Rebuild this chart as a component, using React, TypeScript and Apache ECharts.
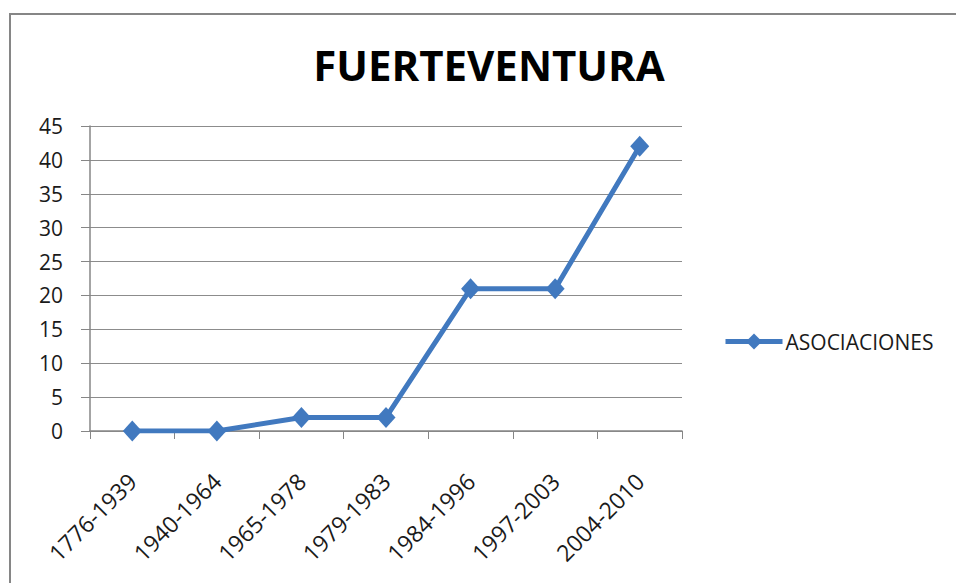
import React, { useEffect, useRef } from "react";
import * as echarts from "echarts";

const categories = ["1776-1939", "1940-1964", "1965-1978", "1979-1983", "1984-1996", "1997-2003", "2004-2010"];
const asociaciones = [0, 0, 2, 2, 21, 21, 42];
const seriesName = "ASOCIACIONES";
const titleText = "FUERTEVENTURA";

export default function App() {
  const ref = useRef<HTMLDivElement>(null);
  useEffect(() => {
    if (!ref.current) return;
    const chart = echarts.init(ref.current, null, { renderer: "svg" });
    const font = "'Open Sans', sans-serif";
    const blue = "#4179BF";
    chart.setOption({
      animation: false,
      backgroundColor: "#ffffff",
      title: {
        text: titleText,
        left: 484,
        textAlign: "center",
        top: 38,
        textStyle: {
          fontFamily: "'Open Sans', sans-serif",
          fontWeight: "bold",
          fontSize: 42,
          color: "#000000",
        },
      },
      graphic: [
        {
          type: "rect",
          shape: { x: 10, y: 14, width: 1000, height: 700 },
          style: { fill: "none", stroke: "#868686", lineWidth: 2 },
          silent: true,
        },
      ],
      legend: {
        data: [seriesName],
        left: 718,
        top: 326,
        itemWidth: 57,
        itemHeight: 20,
        itemGap: 4,
        lineStyle: { width: 5 },
        textStyle: { fontFamily: font, fontSize: 21, color: "#1a1a1a", padding: [0, 0, 0, -2] },
      },
      grid: { left: 90, right: 274, top: 126, bottom: 152, containLabel: false },
      xAxis: {
        type: "category",
        data: categories,
        boundaryGap: true,
        axisLine: { show: true, lineStyle: { color: "#868686", width: 1.5 } },
        axisTick: { show: true, length: 8, alignWithLabel: false, lineStyle: { color: "#868686" } },
        axisLabel: {
          rotate: 45,
          interval: 0,
          margin: 46,
          fontFamily: font,
          fontSize: 23,
          color: "#1a1a1a",
        },
        splitLine: { show: false },
      },
      yAxis: {
        type: "value",
        min: 0,
        max: 45,
        interval: 5,
        axisLine: { show: true, lineStyle: { color: "#868686", width: 1.5 } },
        axisTick: { show: true, length: 9, lineStyle: { color: "#868686" } },
        axisLabel: { margin: 27, fontFamily: font, fontSize: 21, color: "#1a1a1a" },
        splitLine: { show: true, lineStyle: { color: "#8c8c8c", width: 1.2 } },
      },
      series: [
        {
          name: seriesName,
          type: "line",
          data: asociaciones,
          symbol: "diamond",
          symbolSize: [19, 21],
          lineStyle: { color: blue, width: 5 },
          itemStyle: { color: blue },
        },
      ],
    });
    return () => chart.dispose();
  }, []);
  return (
    <div
      ref={ref}
      style={{ position: "fixed", left: 0, top: 0, width: 956, height: 583 }}
    />
  );
}
